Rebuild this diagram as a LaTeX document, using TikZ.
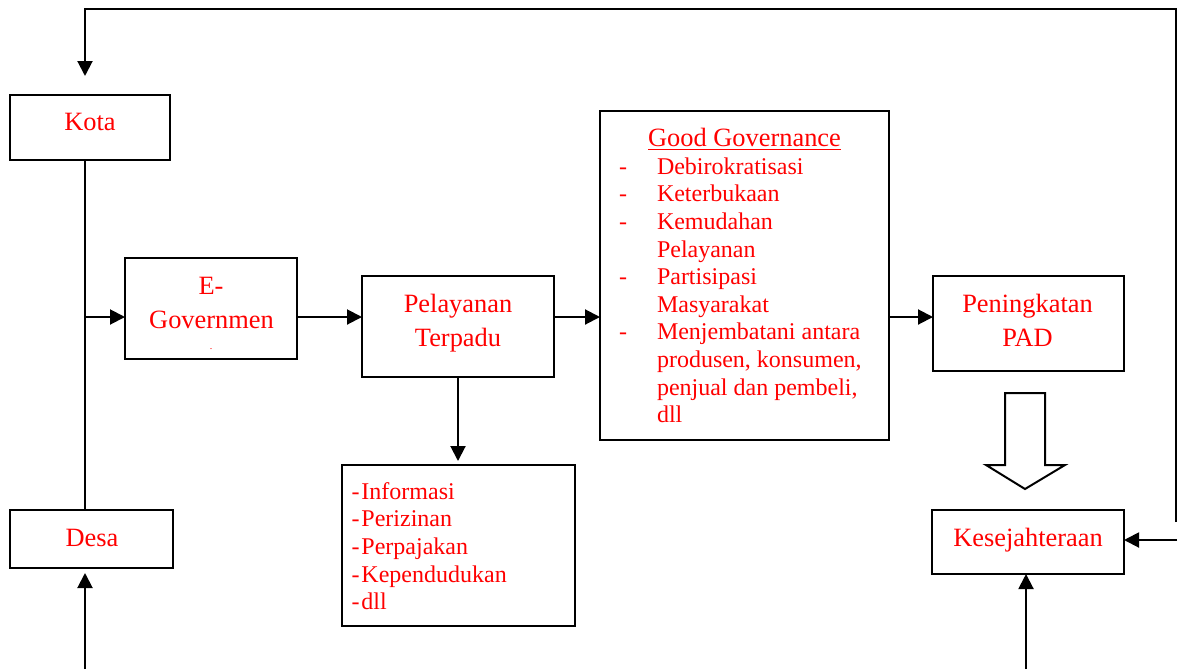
\documentclass[tikz,border=0pt]{standalone}
\usepackage{fontspec}
\setmainfont{Liberation Serif}
\usetikzlibrary{arrows.meta,calc}
\begin{document}
\begin{tikzpicture}[x=0.5pt,y=-0.5pt,
  box/.style={draw, line width=1pt, inner sep=0pt, outer sep=0pt},
  lbl/.style={text=red, font=\fontsize{13.2}{13.8}\selectfont, inner sep=0pt, outer sep=0pt, anchor=base},
  lst/.style={lbl, font=\fontsize{12}{13.8}\selectfont, anchor=base west},
  arr/.style={line width=1pt, -{Triangle[length=7.5pt,width=7.5pt]}},
  ln/.style={line width=1pt}]
\useasboundingbox (0,0) rectangle (1181,669);

% boxes
\node[box, minimum width=80pt,   minimum height=32.5pt]  (kota) at (90,127.5) {};
\node[box, minimum width=81.5pt, minimum height=29pt]    (desa) at (91.5,539) {};
\node[box, minimum width=86pt,   minimum height=50.5pt]  (egov) at (211,308.5) {};
\node[box, minimum width=96pt,   minimum height=50.5pt]  (pel)  at (458,326.5) {};
\node[box, minimum width=116.5pt,minimum height=80.5pt]  (list) at (458.5,545.5) {};
\node[box, minimum width=144.5pt,minimum height=164.5pt] (gg)   at (744.5,275.5) {};
\node[box, minimum width=95.5pt, minimum height=47.5pt]  (pad)  at (1028.5,323.5) {};
\node[box, minimum width=96pt,   minimum height=32pt]    (kes)  at (1028,542) {};

% texts
\node[lbl] (kotaT) at (90,130.5) {Kota};
\node[lbl] (desaT) at (92,546) {Desa};
\node[lbl] (egovT1) at (211,294.3) {E-};
\node[lbl] (egovT2) at (211.5,328.3) {Governmen};
\node[text=red, font=\fontsize{5}{5}\selectfont, inner sep=0pt, anchor=base] (egovDot) at (211,349) {.};
\node[lbl] (pelT1) at (458,312) {Pelayanan};
\node[lbl] (pelT2) at (458,346.3) {Terpadu};
\node[lbl] (padT1) at (1027.5,312) {Peningkatan};
\node[lbl] (padT2) at (1027.5,346) {PAD};
\node[lbl] (kesT) at (1028,546) {Kesejahteraan};
\node[lbl] (ggTitle) at (744.5,146.7) {\underline{Good Governance}};
\node[lst] (ggList) at (619,174.3) {%
\begin{tabular}[t]{@{}p{19pt}@{}l@{}}
-& Debirokratisasi\\
-& Keterbukaan\\
-& Kemudahan\\
 & Pelayanan\\
-& Partisipasi\\
 & Masyarakat\\
-& Menjembatani antara\\
 & produsen, konsumen,\\
 & penjual dan pembeli,\\
 & dll
\end{tabular}};
\node[lst] (listT) at (351.5,499.3) {%
\begin{tabular}[t]{@{}l@{\hspace{1pt}}l@{}}
-& Informasi\\
-& Perizinan\\
-& Perpajakan\\
-& Kependudukan\\
-& dll
\end{tabular}};

% helper coordinates
\coordinate (m) at (0,317);
\coordinate (kx) at (85,0);
\coordinate (topL) at (85,9);
\coordinate (topR) at (1176,9);
\coordinate (rEnd) at (1176,522);
\coordinate (kArr) at (85,76);
\coordinate (rIn) at (1177,540);
\coordinate (dBot) at (85,669);
\coordinate (kBot) at (1026,669);

% connectors
\draw[arr] (rEnd) -- (topR) -- (topL) -- (kArr);
\draw[ln] (kota.south -| kx) -- (desa.north -| kx);
\draw[arr] (kx |- m) -- (egov.west |- m);
\draw[arr] (egov.east |- m) -- (pel.west |- m);
\draw[arr] (pel.east |- m) -- (gg.west |- m);
\draw[arr] (gg.east |- m) -- (pad.west |- m);
\draw[arr, shorten >=2pt] (pel.south) -- (pel.south |- list.north);
\draw[arr, shorten >=2.5pt] (dBot) -- (desa.south -| dBot);
\draw[arr] (kBot) -- (kes.south -| kBot);
\draw[arr] (rIn) -- (kes.east |- rIn);

% hollow block arrow
\draw[line width=1pt, line join=miter] (1005,393) -- (1045,393) -- (1045,465) -- (1065,465)
  -- (1025,489) -- (986,465) -- (1005,465) -- cycle;
\end{tikzpicture}
\end{document}
